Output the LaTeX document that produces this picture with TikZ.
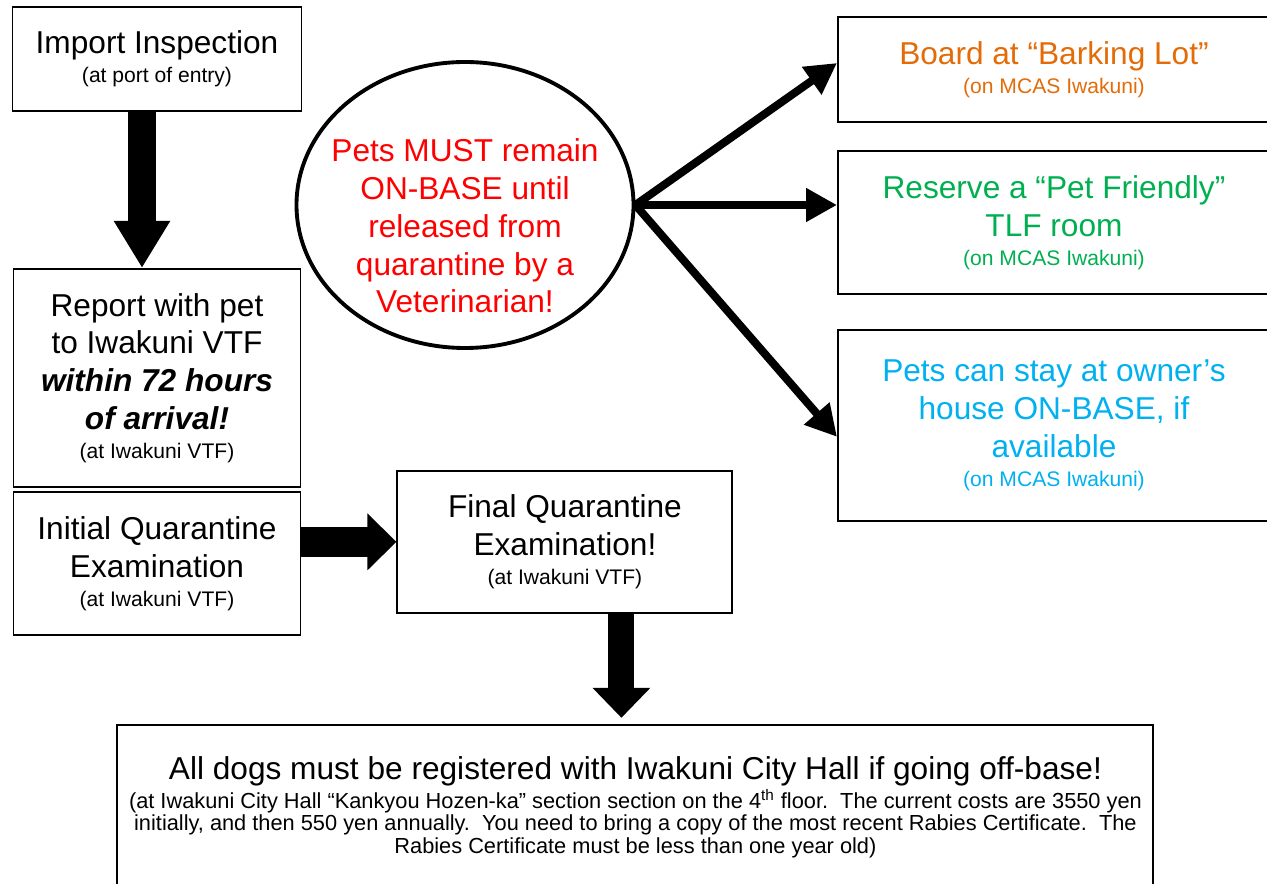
\documentclass[tikz,border=0pt]{standalone}
\usepackage{fontspec}
\setmainfont{Liberation Sans}
\usepackage{xcolor}
\usepackage{tikz}
\usetikzlibrary{positioning}
\usetikzlibrary{calc}
\usetikzlibrary{arrows.meta}
\usetikzlibrary{shapes.geometric}

\definecolor{BarkOrange}{HTML}{E36C09}
\definecolor{TlfGreen}{HTML}{00B050}
\definecolor{HouseBlue}{HTML}{00B0F0}

\newcommand{\subnote}[1]{{\fontsize{12}{14}\selectfont #1}}

\begin{document}
\begin{tikzpicture}[
	stepbox/.style={draw, line width=1.1pt, align=center, inner sep=0pt,
		font=\fontsize{18}{21.5}\selectfont},
	thinarrow/.style={line width=0.16cm, -{Triangle[length=0.62cm, width=0.64cm]}}
]

\useasboundingbox (0,0) rectangle (25.34,-17.68);

\node[
	stepbox,
	minimum width=5.78cm,
	minimum height=2.08cm
] (import) at (3.14,-1.18) {Import Inspection\\[-5pt] \subnote{(at port of entry)}};

\node[
	stepbox,
	minimum width=5.74cm,
	minimum height=4.36cm,
	below=3.12cm of import
] (report) {Report with pet\\ to Iwakuni VTF\\ \textbf{\textit{within 72 hours}}\\ \textbf{\textit{of arrival!}}\\[-5pt] \subnote{(at Iwakuni VTF)}};

\node[
	stepbox,
	minimum width=5.74cm,
	minimum height=2.86cm,
	below=0.06cm of report
] (initial) {Initial Quarantine\\ Examination\\[-5pt] \subnote{(at Iwakuni VTF)}};

\node[
	stepbox,
	minimum width=6.7cm,
	minimum height=2.84cm,
	right=1.9cm of initial,
	yshift=0.43cm
] (final) {Final Quarantine\\ Examination!\\[-5pt] \subnote{(at Iwakuni VTF)}};

\node[
	stepbox,
	minimum width=20.72cm,
	minimum height=3.3cm,
	font=\fontsize{12.4}{13}\selectfont,
	below=2.2cm of final,
	xshift=1.41cm
] (dogs) {{\fontsize{18}{21.5}\selectfont All dogs must be registered with Iwakuni City Hall if going off-base!}\\[1pt]
	(at Iwakuni City Hall “Kankyou Hozen-ka” section section on the 4\textsuperscript{th} floor.\ \ The current costs are 3550 yen\\
	initially, and then 550 yen annually.\ \ You need to bring a copy of the most recent Rabies Certificate.\ \ The\\
	Rabies Certificate must be less than one year old)};

% ellipse and its rule text
\node[
	draw,
	ellipse,
	line width=2.2pt,
	minimum width=6.74cm,
	minimum height=5.72cm
] (quarantine) at (9.3,-4.1) {};

\node[
	align=center,
	text=red,
	font=\fontsize{18}{21.5}\selectfont
] (rule) at ([yshift=-0.42cm]quarantine.center) {Pets MUST remain\\ ON-BASE until\\ released from\\ quarantine by a\\ Veterinarian!};

\node[
	stepbox,
	text=BarkOrange,
	minimum width=8.64cm,
	minimum height=2.1cm,
	anchor=west
] (board) at (16.74,-1.39) {Board at “Barking Lot”\\[-5pt] \subnote{(on MCAS Iwakuni)}};

\node[
	stepbox,
	text=TlfGreen,
	minimum width=8.64cm,
	minimum height=2.86cm,
	below=0.54cm of board
] (reserve) {Reserve a “Pet Friendly”\\ TLF room\\[-5pt] \subnote{(on MCAS Iwakuni)}};

\node[
	stepbox,
	text=HouseBlue,
	minimum width=8.64cm,
	minimum height=3.82cm,
	below=0.68cm of reserve
] (pets) {Pets can stay at owner’s\\ house ON-BASE, if\\ available\\[-5pt] \subnote{(on MCAS Iwakuni)}};

% big block arrows
\coordinate (downA) at ([xshift=-0.3cm]import.south);
\draw[line width=0.56cm, -{Triangle[length=0.94cm, width=1.06cm]}] (downA) -- (downA |- report.north);

\draw[line width=0.6cm, -{Triangle[length=0.58cm, width=1.1cm]}] (initial.east |- final.west) -- (final.west);

\coordinate (downC) at ([xshift=1.13cm]final.south);
\draw[line width=0.52cm, -{Triangle[length=0.6cm, width=1.12cm]}, shorten >=0.12cm] (downC) -- (downC |- dogs.north);

% options from the ellipse
\draw[thinarrow] (quarantine.east) -- ([yshift=0.13cm]board.west);
\draw[thinarrow] (quarantine.east) -- (quarantine.east -| reserve.west);
\draw[thinarrow] (quarantine.east) -- ([yshift=-0.23cm]pets.west);

\end{tikzpicture}
\end{document}
